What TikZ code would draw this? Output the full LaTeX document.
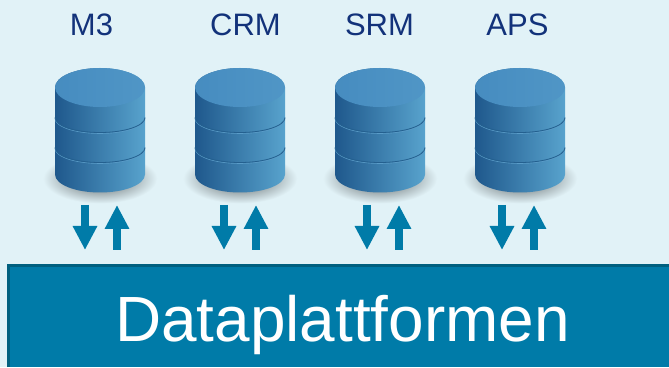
\documentclass[tikz,border=0pt]{standalone}
\usepackage{fontspec}
\setmainfont{Liberation Sans}
\usetikzlibrary{arrows.meta}
\definecolor{fundo}{HTML}{E1F2F7}
\definecolor{petroleo}{HTML}{007BA8}
\definecolor{borda}{HTML}{00607F}
\definecolor{titulo}{HTML}{12327A}
\definecolor{corpoesq}{HTML}{1F588C}
\definecolor{corpodir}{HTML}{58A3CD}
\definecolor{faixa}{HTML}{24608F}
\definecolor{brilho}{HTML}{5A9CC8}
\definecolor{tampaesq}{HTML}{468CC0}
\definecolor{tampadir}{HTML}{5096C6}
\tikzset{
  rotulo/.style={text=titulo, font=\fontsize{31}{31}\selectfont},
  seta/.style={-{Triangle[width=23pt,length=24pt]}, line width=8pt, petroleo},
  pics/banco/.style={code={
    % Sombra
    \shade[inner color=black!65!fundo, outer color=fundo] (0,-91) ellipse (57 and 25);
    % Corpo
    \shade[left color=corpoesq, right color=corpodir]
      (-45,0) -- (-45,-87) arc[start angle=180, end angle=360, x radius=45, y radius=18] -- (45,0)
      arc[start angle=0, end angle=180, x radius=45, y radius=19.5] -- cycle;
    % Faixas
    \draw[line width=0.6pt, brilho] (-45,-31) arc[start angle=180, end angle=360, x radius=45, y radius=15];
    \draw[line width=0.6pt, brilho] (-45,-61) arc[start angle=180, end angle=360, x radius=45, y radius=15];
    \draw[line width=0.8pt, faixa] (-45,-30) arc[start angle=180, end angle=360, x radius=45, y radius=15];
    \draw[line width=0.8pt, faixa] (-45,-60) arc[start angle=180, end angle=360, x radius=45, y radius=15];
    % Tampa
    \shade[left color=tampaesq, right color=tampadir] (0,0) ellipse (45 and 19.5);
  }}
}
\begin{document}
\begin{tikzpicture}[x=1pt,y=1pt]
\useasboundingbox (0,0) rectangle (669,367);
\fill[fundo] (0,0) rectangle (669,367);

% Bancos
\pic at (100,279.5) {banco};
\pic at (240,279.5) {banco};
\pic at (380,279.5) {banco};
\pic at (520,279.5) {banco};

% Rotulos
\node[rotulo] (m3) at (91.5,342) {M3};
\node[rotulo] (crm) at (245.5,342) {CRM};
\node[rotulo] (srm) at (379.5,342) {SRM};
\node[rotulo] (aps) at (517.5,342) {APS};

% Plataforma
\fill[petroleo] (7,0) rectangle (669,103);
\draw[borda, line width=3pt] (8.5,0) -- (8.5,101.5) -- (669,101.5);
\node[text=white, font=\fontsize{63.9}{63.9}\selectfont] (plataforma) at (342.5,42.5) {Dataplattformen};

% Setas
\coordinate (d1a) at (85,162); \coordinate (d1b) at (85,117);
\coordinate (u1a) at (117,117); \coordinate (u1b) at (117,162);
\coordinate (d2a) at (224,162); \coordinate (d2b) at (224,117);
\coordinate (u2a) at (256,117); \coordinate (u2b) at (256,162);
\coordinate (d3a) at (367,162); \coordinate (d3b) at (367,117);
\coordinate (u3a) at (399,117); \coordinate (u3b) at (399,162);
\coordinate (d4a) at (502,162); \coordinate (d4b) at (502,117);
\coordinate (u4a) at (534,117); \coordinate (u4b) at (534,162);
\draw[seta] (d1a) -- (d1b);
\draw[seta] (u1a) -- (u1b);
\draw[seta] (d2a) -- (d2b);
\draw[seta] (u2a) -- (u2b);
\draw[seta] (d3a) -- (d3b);
\draw[seta] (u3a) -- (u3b);
\draw[seta] (d4a) -- (d4b);
\draw[seta] (u4a) -- (u4b);
\end{tikzpicture}
\end{document}
